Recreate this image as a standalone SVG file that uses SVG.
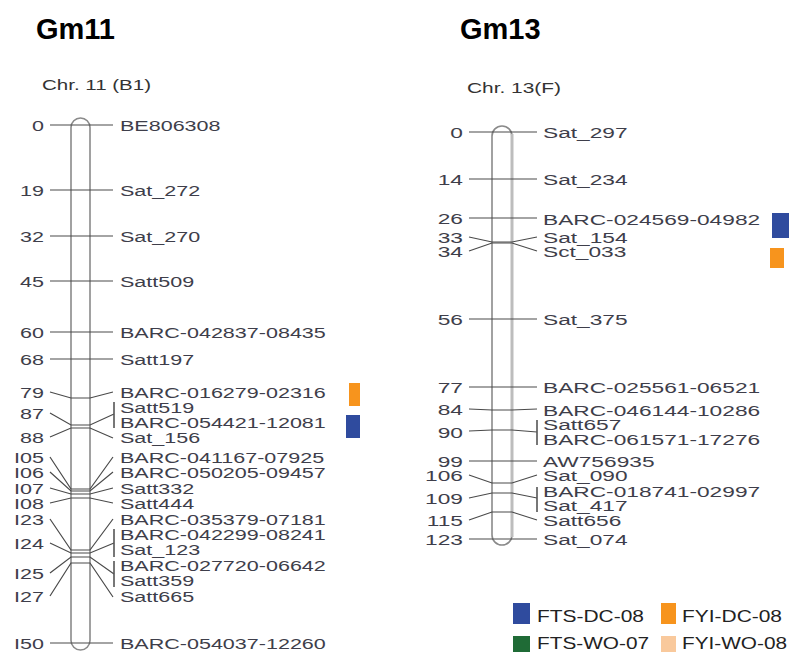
<svg xmlns="http://www.w3.org/2000/svg" width="789" height="652" viewBox="0 0 789 652">
<style>
.title{font-family:"Liberation Sans",Arial,sans-serif;font-weight:bold;font-size:29px;fill:#000}
.chr{font-family:"Liberation Sans",Arial,sans-serif;font-size:15.5px;fill:#333}
.lbl{font-family:"Liberation Sans",Arial,sans-serif;font-size:15.5px;fill:#3e3e4a}
.num{text-anchor:end}
.bar{fill:#fff;stroke:#8a8a8a;stroke-width:1.6}
.edge{fill:none;stroke:#bdbdbd;stroke-width:3}
.tick{fill:none;stroke:#4a4a4a;stroke-width:1.2}
.brk{fill:none;stroke:#555;stroke-width:1.6}
.leg{font-family:"Liberation Sans",Arial,sans-serif;font-size:17px;fill:#222}
</style>
<rect width="789" height="652" fill="#fff"/>
<g id="titles">
<text class="title" x="36" y="39">Gm11</text>
<text class="title" x="460" y="39">Gm13</text>
<text class="chr" x="42" y="90" textLength="109" lengthAdjust="spacingAndGlyphs">Chr. 11 (B1)</text>
<text class="chr" x="467" y="93" textLength="94" lengthAdjust="spacingAndGlyphs">Chr. 13(F)</text>
</g>
<g id="chr11">
<rect class="bar" x="71" y="118" width="19" height="532" rx="9.5"/>
</g>
<g id="chr13">
<rect class="bar" x="492" y="126" width="20" height="419" rx="10"/>
<line class="edge" x1="512" y1="134" x2="512" y2="537"/>
</g>
<g id="connectors">
<polyline class="tick" points="50,125 113,125"/>
<polyline class="tick" points="50,190 113,190"/>
<polyline class="tick" points="50,236 113,236"/>
<polyline class="tick" points="50,281 113,281"/>
<polyline class="tick" points="50,332 113,332"/>
<polyline class="tick" points="50,359 113,359"/>
<polyline class="tick" points="50,392 71,398 90,398 113,392"/>
<polyline class="tick" points="50,413 71,425 90,425 114,414"/>
<polyline class="tick" points="50,437 71,428 90,428 113,438"/>
<polyline class="tick" points="50,457 71,489 90,489 113,457"/>
<polyline class="tick" points="50,472 71,491 90,491 113,472"/>
<polyline class="tick" points="50,488 71,494 90,494 113,488"/>
<polyline class="tick" points="50,503 71,498 90,498 113,503"/>
<polyline class="tick" points="50,519 71,550 90,550 113,519"/>
<polyline class="tick" points="50,543 71,553 90,553 114,543"/>
<polyline class="tick" points="50,573 71,557 90,557 114,574"/>
<polyline class="tick" points="50,596 71,563 90,563 113,597"/>
<polyline class="tick" points="50,643 113,643"/>
<line class="brk" x1="114" y1="402" x2="114" y2="428"/>
<line class="brk" x1="114" y1="529" x2="114" y2="557"/>
<line class="brk" x1="114" y1="561" x2="114" y2="587"/>
<polyline class="tick" points="469,132 537,132"/>
<polyline class="tick" points="469,179 537,179"/>
<polyline class="tick" points="469,218 537,218"/>
<polyline class="tick" points="469,237 492,242 512,242 537,237"/>
<polyline class="tick" points="469,251 492,243 512,243 537,251"/>
<polyline class="tick" points="469,319 537,319"/>
<polyline class="tick" points="469,387 537,387"/>
<polyline class="tick" points="469,409 492,410 512,410 537,409"/>
<polyline class="tick" points="469,431 492,430 512,430 537,432"/>
<polyline class="tick" points="469,461 537,461"/>
<polyline class="tick" points="469,475 492,483 512,483 537,475"/>
<polyline class="tick" points="469,498 492,493 512,493 537,498"/>
<polyline class="tick" points="469,520 492,512 512,512 537,520"/>
<polyline class="tick" points="469,539 537,539"/>
<line class="brk" x1="537" y1="420" x2="537" y2="445"/>
<line class="brk" x1="537" y1="487" x2="537" y2="512"/>
</g>
<g id="labels11" class="lbl" transform="scale(1.39,1)">
<text class="num" x="31.65" y="131">0</text>
<text class="num" x="31.65" y="196">19</text>
<text class="num" x="31.65" y="242">32</text>
<text class="num" x="31.65" y="287">45</text>
<text class="num" x="31.65" y="338">60</text>
<text class="num" x="31.65" y="365">68</text>
<text class="num" x="31.65" y="398">79</text>
<text class="num" x="31.65" y="419">87</text>
<text class="num" x="31.65" y="443">88</text>
<text class="num" x="31.65" y="463">I05</text>
<text class="num" x="31.65" y="478">I06</text>
<text class="num" x="31.65" y="494">I07</text>
<text class="num" x="31.65" y="509">I08</text>
<text class="num" x="31.65" y="525">I23</text>
<text class="num" x="31.65" y="549">I24</text>
<text class="num" x="31.65" y="579">I25</text>
<text class="num" x="31.65" y="602">I27</text>
<text class="num" x="31.65" y="649">I50</text>
<text x="86.33" y="131">BE806308</text>
<text x="86.33" y="196">Sat_272</text>
<text x="86.33" y="242">Sat_270</text>
<text x="86.33" y="287">Satt509</text>
<text x="86.33" y="338">BARC-042837-08435</text>
<text x="86.33" y="365">Satt197</text>
<text x="86.33" y="398">BARC-016279-02316</text>
<text x="86.33" y="413">Satt519</text>
<text x="86.33" y="428">BARC-054421-12081</text>
<text x="86.33" y="443">Sat_156</text>
<text x="86.33" y="463">BARC-041167-07925</text>
<text x="86.33" y="478">BARC-050205-09457</text>
<text x="86.33" y="494">Satt332</text>
<text x="86.33" y="509">Satt444</text>
<text x="86.33" y="525">BARC-035379-07181</text>
<text x="86.33" y="540">BARC-042299-08241</text>
<text x="86.33" y="555">Sat_123</text>
<text x="86.33" y="571">BARC-027720-06642</text>
<text x="86.33" y="586">Satt359</text>
<text x="86.33" y="602">Satt665</text>
<text x="86.33" y="649">BARC-054037-12260</text>
</g>
<g id="labels13" class="lbl" transform="scale(1.466,1)">
<text class="num" x="315.83" y="138">0</text>
<text class="num" x="315.83" y="185">14</text>
<text class="num" x="315.83" y="224">26</text>
<text class="num" x="315.83" y="243">33</text>
<text class="num" x="315.83" y="257">34</text>
<text class="num" x="315.83" y="325">56</text>
<text class="num" x="315.83" y="393">77</text>
<text class="num" x="315.83" y="415">84</text>
<text class="num" x="315.83" y="438">90</text>
<text class="num" x="315.83" y="467">99</text>
<text class="num" x="315.83" y="481">106</text>
<text class="num" x="315.83" y="504">109</text>
<text class="num" x="315.83" y="526">115</text>
<text class="num" x="315.83" y="545">123</text>
<text x="370.4" y="138">Sat_297</text>
<text x="370.4" y="185">Sat_234</text>
<text x="370.4" y="225">BARC-024569-04982</text>
<text x="370.4" y="243">Sat_154</text>
<text x="370.4" y="257">Sct_033</text>
<text x="370.4" y="325">Sat_375</text>
<text x="370.4" y="393">BARC-025561-06521</text>
<text x="370.4" y="416">BARC-046144-10286</text>
<text x="370.4" y="430">Satt657</text>
<text x="370.4" y="445">BARC-061571-17276</text>
<text x="370.4" y="467">AW756935</text>
<text x="370.4" y="481">Sat_090</text>
<text x="370.4" y="497">BARC-018741-02997</text>
<text x="370.4" y="511">Sat_417</text>
<text x="370.4" y="526">Satt656</text>
<text x="370.4" y="545">Sat_074</text>
</g>
<g id="qtl-markers">
<rect x="349" y="383" width="11" height="23" fill="#f7941d"/>
<rect x="346" y="415" width="14" height="23" fill="#2f4b9e"/>
<rect x="772" y="213" width="17" height="25" fill="#2f4b9e"/>
<rect x="770" y="248" width="14" height="20" fill="#f7941d"/>
</g>
<g id="legend">
<rect x="513" y="603" width="17" height="21" fill="#2f4b9e"/>
<text class="leg" x="537" y="622" textLength="107" lengthAdjust="spacingAndGlyphs">FTS-DC-08</text>
<rect x="661" y="603" width="15" height="21" fill="#f7941d"/>
<text class="leg" x="682" y="622" textLength="100" lengthAdjust="spacingAndGlyphs">FYI-DC-08</text>
<rect x="513" y="636" width="17" height="16" fill="#1f6b36"/>
<text class="leg" x="537" y="649" textLength="112" lengthAdjust="spacingAndGlyphs">FTS-WO-07</text>
<rect x="661" y="636" width="15" height="16" fill="#f9c99c"/>
<text class="leg" x="682" y="649" textLength="105" lengthAdjust="spacingAndGlyphs">FYI-WO-08</text>
</g>
</svg>
